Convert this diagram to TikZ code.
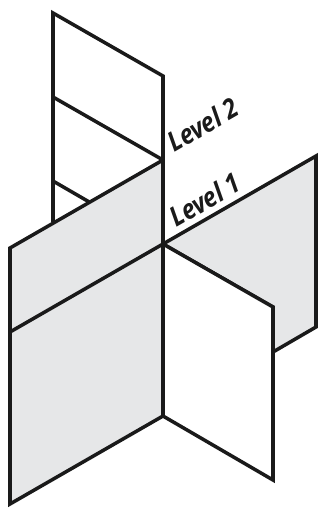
\documentclass[tikz,border=0pt]{standalone}
\usepackage{fontspec}
\newfontfamily\levelfont[FakeStretch=0.88]{Open Sans}
\definecolor{PanelGray}{HTML}{E6E7E8}
\definecolor{PanelLine}{HTML}{1A1A1A}
\usetikzlibrary{positioning}
\tikzset{
  panelgray/.style={draw=PanelLine,fill=PanelGray,line width=2pt,line join=miter},
  panelwhite/.style={draw=PanelLine,fill=white,line width=2pt,line join=miter},
  panelline/.style={draw=PanelLine,line width=2pt,line cap=round},
  levellabel/.style={font=\levelfont\itshape\bfseries\fontsize{15.5pt}{17pt}\selectfont,
    color=PanelLine,rotate=30,inner sep=0pt,anchor=base west},
}
\begin{document}
\begin{tikzpicture}[x=0.02cm,y=-0.02cm]
  \useasboundingbox (0,0) rectangle (328,508);
  % back wall
  \coordinate (BackTL) at (53,13);
  \coordinate (BackTR) at (163,76);
  \coordinate (BackML) at (53,97);
  \coordinate (Axis2) at (163,160);
  \coordinate (BackLL) at (53,181);
  \coordinate (BackLB) at (53,222);
  \coordinate (Axis1) at (163,244);
  \coordinate (AxisEnd) at (163,416);
  \draw[panelline] (BackLB)--(BackTL)--(BackTR)--(Axis2);
  \draw[panelline] (BackML)--(Axis2);
  \draw[panelline] (BackLL)--(91,203);
  % right wall, gray
  \coordinate (RightT) at (316,156);
  \coordinate (RightB) at (316,327);
  \coordinate (RightC) at (273,352);
  \filldraw[panelgray] (Axis1)--(RightT)--(RightB)--(RightC)--(273,307)--cycle;
  % front right, white
  \coordinate (FrontT) at (273,307);
  \coordinate (FrontB) at (273,480);
  \draw[panelwhite] (Axis1)--(FrontT)--(FrontB)--(AxisEnd)--cycle;
  % front left, gray
  \coordinate (LeftT) at (10,248);
  \coordinate (LeftM) at (10,332);
  \coordinate (LeftB) at (10,504);
  \draw[panelgray] (LeftT)--(Axis2)--(AxisEnd)--(LeftB)--cycle;
  \draw[panelline] (LeftM)--(Axis1);
  % labels
  \node[levellabel] (level2) at (174,153) {Level 2};
  \node[levellabel] (level1) at (176,228) {Level 1};
\end{tikzpicture}
\end{document}
